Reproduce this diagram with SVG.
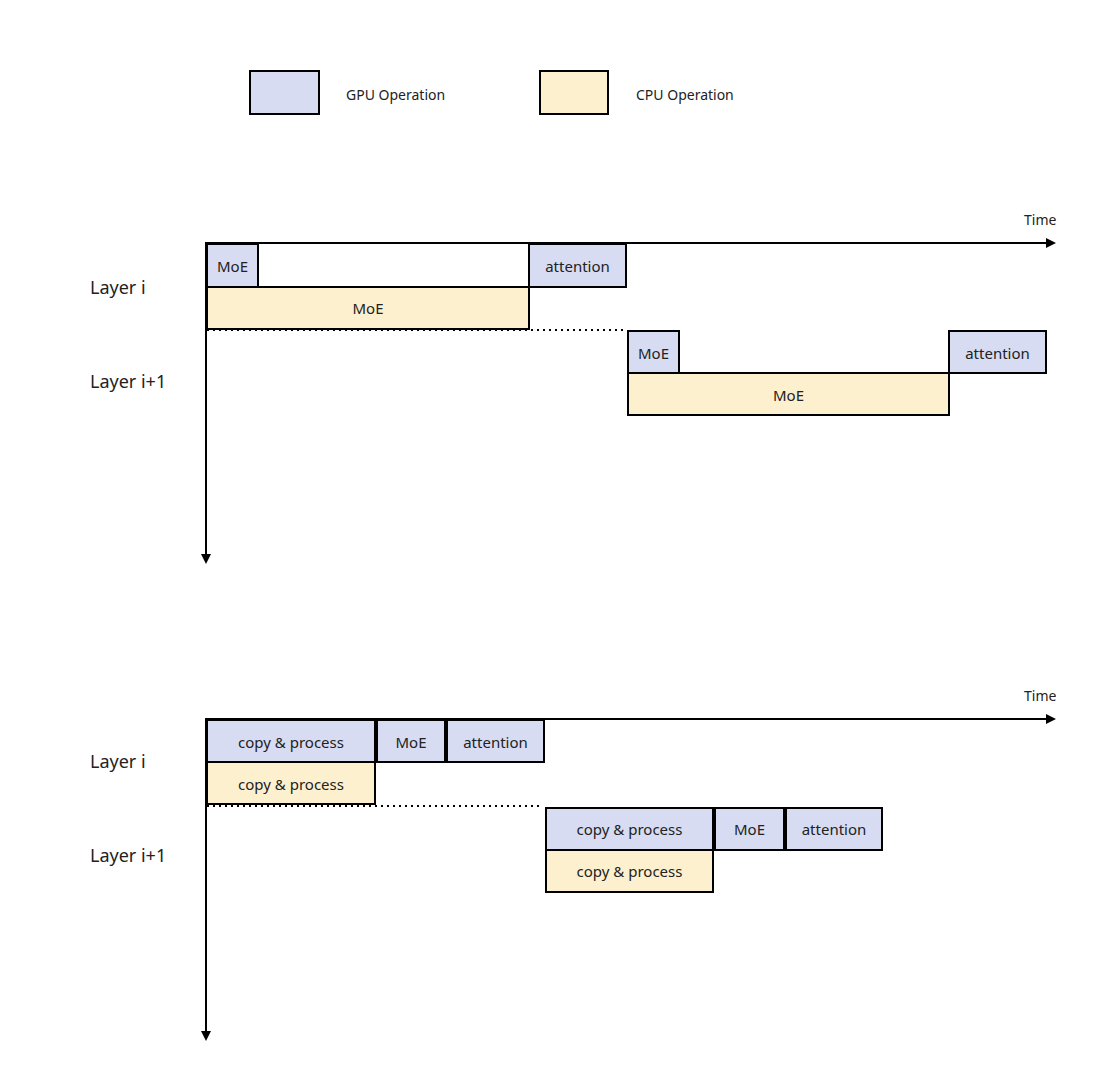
<svg xmlns="http://www.w3.org/2000/svg" width="1101" height="1086" viewBox="0 0 1101 1086">
<style>
text{font-family:"Noto Sans","Noto Sans CJK SC",sans-serif;fill:#222}
.g{fill:#d7dcf3;stroke:#000;stroke-width:2}
.c{fill:#fdf0cf;stroke:#000;stroke-width:2}
.t{font-size:15px;text-anchor:middle;dominant-baseline:central}
.l{font-size:18px}
.ax{stroke:#000;stroke-width:2;fill:none}
.dot{stroke:#000;stroke-width:2;stroke-dasharray:2 4;fill:none}
</style>
<defs><marker id="a" markerWidth="10" markerHeight="10" refX="8" refY="5" orient="auto" markerUnits="userSpaceOnUse"><path d="M0,0 L10,5 L0,10z" fill="#000"/></marker></defs>
<g id="legend">
<rect class="g" x="250" y="71" width="69" height="43"/><text x="346" y="94" font-size="14" dominant-baseline="central">GPU Operation</text>
<rect class="c" x="540" y="71" width="68" height="43"/><text x="636" y="94" font-size="14" dominant-baseline="central">CPU Operation</text>
</g>
<g id="connectors">
<path class="ax" d="M205,243 H1054" marker-end="url(#a)"/>
<path class="ax" d="M206,243 V562" marker-end="url(#a)"/>
<path class="dot" d="M207,330 H625"/>
<path class="ax" d="M205,719 H1054" marker-end="url(#a)"/>
<path class="ax" d="M206,719 V1039" marker-end="url(#a)"/>
<path class="dot" d="M207,806 H542"/>
</g>
<text x="1024" y="225" font-size="14">Time</text>
<text x="1024" y="701" font-size="14">Time</text>
<text class="l" x="90" y="294">Layer i</text>
<text class="l" x="90" y="388">Layer i+1</text>
<text class="l" x="90" y="768">Layer i</text>
<text class="l" x="90" y="862">Layer i+1</text>
<g id="t1"><rect class="g" x="207" y="244" width="51" height="43"/><text class="t" x="232.5" y="266">MoE</text></g>
<g id="t2"><rect class="g" x="529" y="244" width="97" height="43"/><text class="t" x="577.5" y="266">attention</text></g>
<g id="t3"><rect class="c" x="207" y="287" width="322" height="42"/><text class="t" x="368" y="308">MoE</text></g>
<g id="t4"><rect class="g" x="628" y="331" width="51" height="42"/><text class="t" x="653.5" y="353">MoE</text></g>
<g id="t5"><rect class="g" x="949" y="331" width="97" height="42"/><text class="t" x="997.5" y="353">attention</text></g>
<g id="t6"><rect class="c" x="628" y="373" width="321" height="42"/><text class="t" x="788.5" y="395">MoE</text></g>
<g id="b1"><rect class="g" x="207" y="720" width="168" height="42"/><text class="t" x="291" y="742">copy &amp; process</text></g>
<g id="b2"><rect class="g" x="377" y="720" width="68" height="42"/><text class="t" x="411" y="742">MoE</text></g>
<g id="b3"><rect class="g" x="447" y="720" width="97" height="42"/><text class="t" x="495.5" y="742">attention</text></g>
<g id="b4"><rect class="c" x="207" y="762" width="168" height="42"/><text class="t" x="291" y="784">copy &amp; process</text></g>
<g id="b5"><rect class="g" x="546" y="808" width="167" height="42"/><text class="t" x="629.5" y="829">copy &amp; process</text></g>
<g id="b6"><rect class="g" x="715" y="808" width="69" height="42"/><text class="t" x="749.5" y="829">MoE</text></g>
<g id="b7"><rect class="g" x="786" y="808" width="96" height="42"/><text class="t" x="834" y="829">attention</text></g>
<g id="b8"><rect class="c" x="546" y="850" width="167" height="42"/><text class="t" x="629.5" y="871">copy &amp; process</text></g>
</svg>
